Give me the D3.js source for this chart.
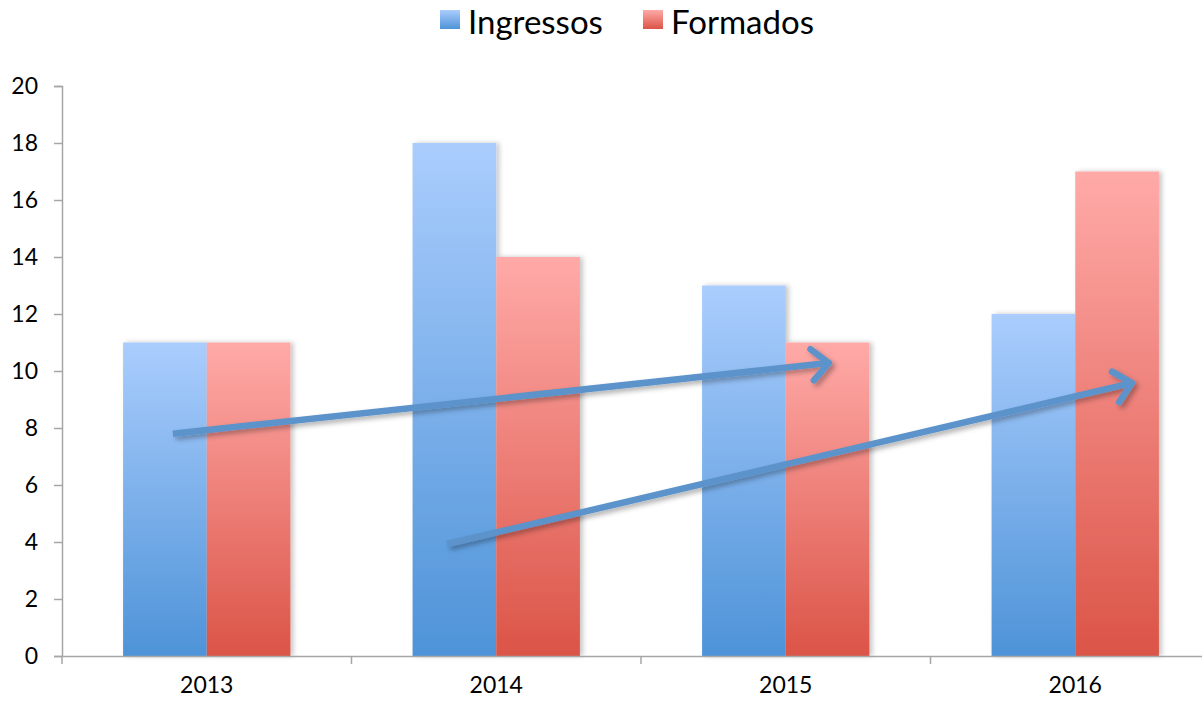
<!DOCTYPE html>
<html lang="pt">
<head>
<meta charset="utf-8">
<script src="https://d3js.org/d3.v7.min.js"></script>
<style>
  body { margin: 0; background: #fff; }
  svg { display: block; font-family: Lato, "Open Sans", sans-serif; }
</style>
</head>
<body>
<div id="chart"></div>
<script>
// dados do grafico
var anos = ["2013", "2014", "2015", "2016"];
var series = ["Ingressos", "Formados"];
var ingressos = [11, 18, 13, 12];
var formados = [11, 14, 11, 17];
var yTicks = [0, 2, 4, 6, 8, 10, 12, 14, 16, 18, 20];
// setas: posicao em unidades de categoria (0 = inicio de 2013) e valor no eixo y
var setaInicio = [{cat: 0.383, val: 7.8}, {cat: 1.33, val: 3.93}];
var setaFim = [{cat: 2.649, val: 10.28}, {cat: 3.696, val: 9.58}];

var W = 1202, H = 702;
var mLeft = 62, mRight = 1220, mTop = 86, mBottom = 656;
var fonte = "Lato, 'Open Sans', sans-serif";

var svg = d3.select("#chart").append("svg")
  .attr("width", W).attr("height", H);

var defs = svg.append("defs");
var cores = {
  Ingressos: ["#aacdfd", "#4e93d8"],
  Formados: ["#ffaaa8", "#db5447"]
};
series.forEach(function(s) {
  var g = defs.append("linearGradient").attr("id", "grad-" + s)
    .attr("x1", 0).attr("y1", 0).attr("x2", 0).attr("y2", 1);
  g.append("stop").attr("offset", "0%").attr("stop-color", cores[s][0]);
  g.append("stop").attr("offset", "100%").attr("stop-color", cores[s][1]);
});
var sombra = defs.append("filter").attr("id", "sombra")
  .attr("x", "-20%").attr("y", "-20%").attr("width", "140%").attr("height", "140%");
sombra.append("feDropShadow").attr("dx", 3).attr("dy", 3)
  .attr("stdDeviation", 2.5).attr("flood-color", "#000").attr("flood-opacity", 0.3);
var sombraBar = defs.append("filter").attr("id", "sombraBar")
  .attr("x", "-10%").attr("y", "-10%").attr("width", "120%").attr("height", "120%");
sombraBar.append("feDropShadow").attr("dx", 3).attr("dy", 0)
  .attr("stdDeviation", 2.5).attr("flood-color", "#000").attr("flood-opacity", 0.22);

var x0 = d3.scaleBand().domain(anos).range([mLeft, mRight])
  .paddingInner(0.422).paddingOuter(0.211);
var x1 = d3.scaleBand().domain(series).range([0, x0.bandwidth()]);
var y = d3.scaleLinear().domain([0, 20]).range([mBottom, mTop]);
var inicioX = x0(anos[0]) - x0.step() * x0.paddingOuter();
var xPos = d3.scaleLinear().domain([0, anos.length])
  .range([inicioX, inicioX + x0.step() * anos.length]);

// barras
var dados = anos.map(function(a, i) {
  return {ano: a, valores: [{s: "Ingressos", v: ingressos[i]}, {s: "Formados", v: formados[i]}]};
});
var grupos = svg.append("g").selectAll("g").data(dados).enter().append("g")
  .attr("transform", function(d) { return "translate(" + x0(d.ano) + ",0)"; })
  .attr("filter", "url(#sombraBar)");
grupos.selectAll("rect").data(function(d) { return d.valores; }).enter().append("rect")
  .attr("x", function(d) { return x1(d.s); })
  .attr("y", function(d) { return y(d.v); })
  .attr("width", x1.bandwidth())
  .attr("height", function(d) { return mBottom - y(d.v); })
  .attr("fill", function(d) { return "url(#grad-" + d.s + ")"; });

// eixo y
var yAxis = svg.append("g").attr("transform", "translate(" + mLeft + ",0)")
  .call(d3.axisLeft(y).tickValues(yTicks).tickSize(8).tickPadding(16));
yAxis.attr("font-family", fonte).attr("font-size", 23);
yAxis.select(".domain").attr("stroke", "#a6a6a6").attr("stroke-width", 1.5);
yAxis.selectAll(".tick line").attr("stroke", "#a6a6a6").attr("stroke-width", 1.5);
yAxis.selectAll("text").attr("fill", "#000");

// eixo x
var xAxis = svg.append("g").attr("transform", "translate(0," + mBottom + ")")
  .call(d3.axisBottom(x0).tickSize(0).tickPadding(21));
xAxis.attr("font-family", fonte).attr("font-size", 23);
xAxis.select(".domain").attr("stroke", "#a6a6a6").attr("stroke-width", 1.5);
xAxis.selectAll("text").attr("fill", "#000");
var limites = d3.range(anos.length + 1).map(function(i) { return xPos(i); });
xAxis.selectAll(".sep").data(limites).enter().append("line")
  .attr("x1", function(d) { return d; }).attr("x2", function(d) { return d; })
  .attr("y1", 0).attr("y2", 8)
  .attr("stroke", "#a6a6a6").attr("stroke-width", 1.5);

// setas
var corSeta = "#5b93cb";
var setas = svg.append("g").attr("filter", "url(#sombra)");
setaInicio.forEach(function(ini, i) {
  var fim = setaFim[i];
  var xa = xPos(ini.cat), ya = y(ini.val), xb = xPos(fim.cat), yb = y(fim.val);
  var ang = Math.atan2(yb - ya, xb - xa);
  var L = 23, abre = 0.75;
  var p1 = [xb - L * Math.cos(ang - abre), yb - L * Math.sin(ang - abre)];
  var p2 = [xb - L * Math.cos(ang + abre), yb - L * Math.sin(ang + abre)];
  setas.append("line")
    .attr("x1", xa).attr("y1", ya).attr("x2", xb - 3 * Math.cos(ang)).attr("y2", yb - 3 * Math.sin(ang))
    .attr("stroke", corSeta).attr("stroke-width", 6.5);
  setas.append("path")
    .attr("d", "M" + p1 + "L" + xb + "," + yb + "L" + p2)
    .attr("fill", "none").attr("stroke", corSeta).attr("stroke-width", 6.5)
    .attr("stroke-linecap", "round").attr("stroke-linejoin", "round");
});

// legenda
var legenda = svg.append("g");
var legX = [440, 643];
series.forEach(function(s, i) {
  legenda.append("rect").attr("x", legX[i]).attr("y", 10).attr("width", 20).attr("height", 19)
    .attr("fill", "url(#grad-" + s + ")");
  legenda.append("text").attr("x", legX[i] + 28).attr("y", 34)
    .attr("font-size", 33).attr("fill", "#000").text(s);
});
</script>
</body>
</html>
